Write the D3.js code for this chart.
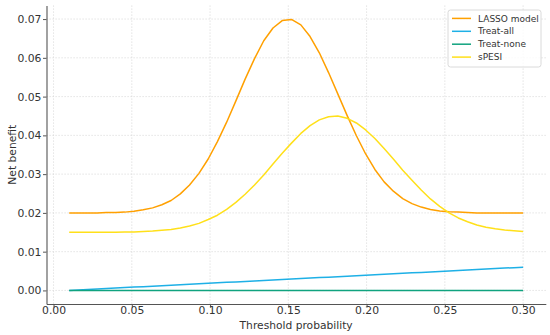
<!DOCTYPE html>
<html>
<head>
<meta charset="utf-8">
<script src="https://cdn.jsdelivr.net/npm/d3@7"></script>
<style>
  body { margin: 0; background: #fff; }
  svg { display: block; font-family: "DejaVu Sans", sans-serif; }
</style>
</head>
<body>
<svg id="chart"></svg>
<script>
// threshold probabilities (50 steps from 0.01 to 0.30)
var thresholds = [0.0100, 0.0159, 0.0218, 0.0278, 0.0337, 0.0396, 0.0455, 0.0514, 0.0573, 0.0633,
  0.0692, 0.0751, 0.0810, 0.0869, 0.0929, 0.0988, 0.1047, 0.1106, 0.1165, 0.1224,
  0.1284, 0.1343, 0.1402, 0.1461, 0.1520, 0.1580, 0.1639, 0.1698, 0.1757, 0.1816,
  0.1876, 0.1935, 0.1994, 0.2053, 0.2112, 0.2171, 0.2231, 0.2290, 0.2349, 0.2408,
  0.2467, 0.2527, 0.2586, 0.2645, 0.2704, 0.2763, 0.2822, 0.2882, 0.2941, 0.3000];

var lassoModel = [0.0200, 0.0200, 0.0200, 0.0200, 0.0201, 0.0201, 0.0202, 0.0204, 0.0208, 0.0213,
  0.0221, 0.0232, 0.0249, 0.0272, 0.0302, 0.0339, 0.0384, 0.0434, 0.0489, 0.0545,
  0.0598, 0.0644, 0.0677, 0.0696, 0.0699, 0.0685, 0.0655, 0.0613, 0.0562, 0.0507,
  0.0451, 0.0399, 0.0352, 0.0312, 0.0280, 0.0256, 0.0237, 0.0224, 0.0215, 0.0209,
  0.0205, 0.0203, 0.0202, 0.0201, 0.0200, 0.0200, 0.0200, 0.0200, 0.0200, 0.0200];

var treatAll = [0.00000, 0.00012, 0.00024, 0.00037, 0.00049, 0.00061, 0.00073, 0.00086, 0.00098, 0.00110,
  0.00122, 0.00135, 0.00147, 0.00159, 0.00171, 0.00184, 0.00196, 0.00208, 0.00220, 0.00233,
  0.00245, 0.00257, 0.00269, 0.00282, 0.00294, 0.00306, 0.00318, 0.00331, 0.00343, 0.00355,
  0.00367, 0.00380, 0.00392, 0.00404, 0.00416, 0.00429, 0.00441, 0.00453, 0.00465, 0.00478,
  0.00490, 0.00502, 0.00514, 0.00527, 0.00539, 0.00551, 0.00563, 0.00576, 0.00588, 0.00600];

var treatNone = [0, 0, 0, 0, 0, 0, 0, 0, 0, 0,
  0, 0, 0, 0, 0, 0, 0, 0, 0, 0,
  0, 0, 0, 0, 0, 0, 0, 0, 0, 0,
  0, 0, 0, 0, 0, 0, 0, 0, 0, 0,
  0, 0, 0, 0, 0, 0, 0, 0, 0, 0];

var sPESI = [0.0150, 0.0150, 0.0150, 0.0150, 0.0150, 0.0150, 0.0151, 0.0151, 0.0152, 0.0153,
  0.0155, 0.0157, 0.0161, 0.0166, 0.0173, 0.0183, 0.0194, 0.0209, 0.0227, 0.0248,
  0.0272, 0.0298, 0.0326, 0.0354, 0.0380, 0.0405, 0.0425, 0.0440, 0.0448, 0.0450,
  0.0444, 0.0432, 0.0414, 0.0392, 0.0366, 0.0339, 0.0310, 0.0284, 0.0259, 0.0236,
  0.0217, 0.0200, 0.0187, 0.0177, 0.0169, 0.0163, 0.0159, 0.0156, 0.0154, 0.0152];

var xTicks = [0.00, 0.05, 0.10, 0.15, 0.20, 0.25, 0.30];
var yTicks = [0.00, 0.01, 0.02, 0.03, 0.04, 0.05, 0.06, 0.07];

var series = [
  { name: "LASSO model", values: lassoModel, color: "#ffa000" },
  { name: "Treat-all", values: treatAll, color: "#1eb0e6" },
  { name: "Treat-none", values: treatNone, color: "#10a37f" },
  { name: "sPESI", values: sPESI, color: "#ffe01a" }
];

var dimensions = {
  width: 550,
  height: 335,
  plot: { left: 46.5, right: 545.8, top: 5.5, bottom: 304 }
}

var svg = d3.select("#chart")
  .attr("width", dimensions.width)
  .attr("height", dimensions.height)

svg.append("rect")
  .attr("width", dimensions.width)
  .attr("height", dimensions.height)
  .attr("fill", "#fff")

// matplotlib style 5% margins
var xScale = d3.scaleLinear()
  .domain([-0.0045, 0.3145])
  .range([dimensions.plot.left, dimensions.plot.right])

var yScale = d3.scaleLinear()
  .domain([-0.0035, 0.0735])
  .range([dimensions.plot.bottom, dimensions.plot.top])

// grid
var grid = svg.append("g")
grid.selectAll(".vgrid").data(xTicks).join("line")
  .attr("x1", d => xScale(d)).attr("x2", d => xScale(d))
  .attr("y1", dimensions.plot.top).attr("y2", dimensions.plot.bottom)
  .attr("stroke", "#d4d4d4").attr("stroke-width", 0.8)
  .attr("stroke-dasharray", "1.2,1.8")
grid.selectAll(".hgrid").data(yTicks).join("line")
  .attr("y1", d => yScale(d)).attr("y2", d => yScale(d))
  .attr("x1", dimensions.plot.left).attr("x2", dimensions.plot.right)
  .attr("stroke", "#d4d4d4").attr("stroke-width", 0.8)
  .attr("stroke-dasharray", "1.2,1.8")

// axes
var xAxis = d3.axisBottom(xScale).tickValues(xTicks).tickFormat(d3.format(".2f"))
  .tickSizeOuter(0).tickSizeInner(3.5).tickPadding(2.5)
var yAxis = d3.axisLeft(yScale).tickValues(yTicks).tickFormat(d3.format(".2f"))
  .tickSizeOuter(0).tickSizeInner(3.5).tickPadding(1.5)

var gx = svg.append("g")
  .attr("transform", `translate(0,${dimensions.plot.bottom})`)
  .call(xAxis)
var gy = svg.append("g")
  .attr("transform", `translate(${dimensions.plot.left},0)`)
  .call(yAxis)

;[gx, gy].forEach(function(g) {
  g.select(".domain").attr("stroke", "#555").attr("stroke-width", 1.1)
  g.selectAll(".tick line").attr("stroke", "#555").attr("stroke-width", 1)
  g.selectAll(".tick text")
    .attr("fill", "#333")
    .style("font-size", "10.8px")
    .style("font-family", "DejaVu Sans")
})
// pull x tick labels up closer to the spine
gx.selectAll(".tick text").attr("y", 2.8)

svg.append("text")
  .text("Threshold probability")
  .attr("x", (dimensions.plot.left + dimensions.plot.right) / 2)
  .attr("y", 329)
  .attr("text-anchor", "middle")
  .attr("fill", "#333")
  .style("font-size", "10.7px")

svg.append("text")
  .text("Net benefit")
  .attr("transform", `translate(15.5,${(dimensions.plot.top + dimensions.plot.bottom) / 2}) rotate(-90)`)
  .attr("text-anchor", "middle")
  .attr("fill", "#333")
  .style("font-size", "10.7px")

// lines
var line = d3.line()
  .x((d, i) => xScale(thresholds[i]))
  .y(d => yScale(d))

svg.append("g").selectAll("path").data(series).join("path")
  .attr("d", d => line(d.values))
  .attr("fill", "none")
  .attr("stroke", d => d.color)
  .attr("stroke-width", 1.5)
  .attr("stroke-linejoin", "round")

// legend
var legend = svg.append("g")
legend.append("rect")
  .attr("x", 448).attr("y", 10)
  .attr("width", 93).attr("height", 57)
  .attr("rx", 2.5)
  .attr("fill", "rgba(255,255,255,0.8)")
  .attr("stroke", "#d0d0d0")
  .attr("stroke-width", 0.8)

var items = legend.selectAll(".item").data(series).join("g")
  .attr("transform", (d, i) => `translate(0,${18.4 + i * 12.9})`)
items.append("line")
  .attr("x1", 452).attr("x2", 471)
  .attr("stroke", d => d.color)
  .attr("stroke-width", 1.5)
items.append("text")
  .text(d => d.name)
  .attr("x", 478)
  .attr("dy", "0.35em")
  .attr("fill", "#333")
  .style("font-size", "9px")
</script>
</body>
</html>
